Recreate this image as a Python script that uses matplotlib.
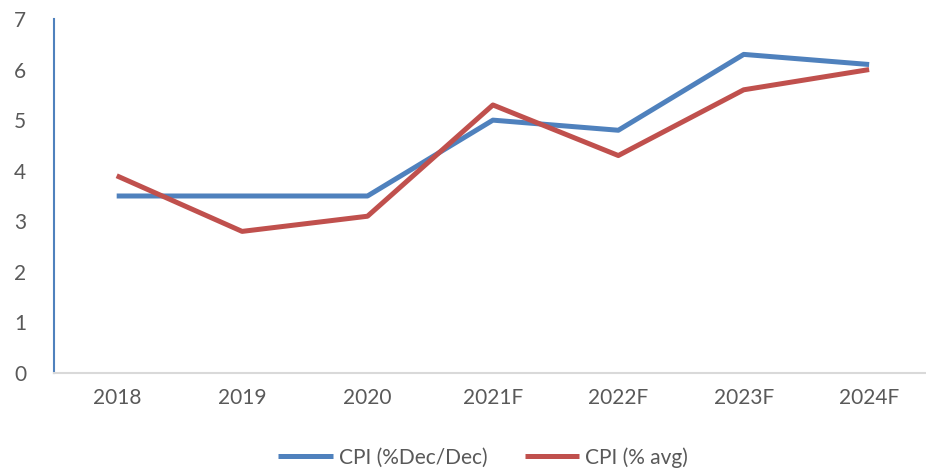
import matplotlib.pyplot as plt

years = ["2018", "2019", "2020", "2021F", "2022F", "2023F", "2024F"]
cpi_dec = [3.5, 3.5, 3.5, 5.0, 4.8, 6.3, 6.1]
cpi_avg = [3.9, 2.8, 3.1, 5.3, 4.3, 5.6, 6.0]

plt.rcParams['font.family'] = ['Lato', 'DejaVu Sans']

fig = plt.figure(figsize=(9.26, 4.69), dpi=100)
ax = fig.add_axes([0.0583, 0.2047, 0.948, 0.7548])

x = range(len(years))
ax.plot(x, cpi_dec, color="#4F81BD", lw=3.6, label="CPI (%Dec/Dec)", solid_capstyle="butt")
ax.plot(x, cpi_avg, color="#C0504D", lw=3.6, label="CPI (% avg)", solid_capstyle="butt")

ax.set_xlim(-0.5, 6.5)
ax.set_ylim(0, 7)
ax.set_xticks(list(x))
ax.set_xticklabels(years)
ax.set_yticks(range(8))

for s in ["top", "right"]:
    ax.spines[s].set_visible(False)
ax.spines["left"].set_color("#4F81BD")
ax.spines["left"].set_linewidth(1.5)
ax.spines["bottom"].set_color("#D9D9D9")
ax.spines["bottom"].set_linewidth(1.5)
ax.tick_params(length=0, labelsize=15, colors="#595959")
ax.tick_params(axis="x", pad=11)
ax.tick_params(axis="y", pad=20)

fig.legend(loc="center", bbox_to_anchor=(0.522, 0.025), ncol=2, frameon=False,
           fontsize=15, labelcolor="#595959", handlelength=2.6, columnspacing=1.8,
           handletextpad=0.3)

fig.savefig("out.png")
